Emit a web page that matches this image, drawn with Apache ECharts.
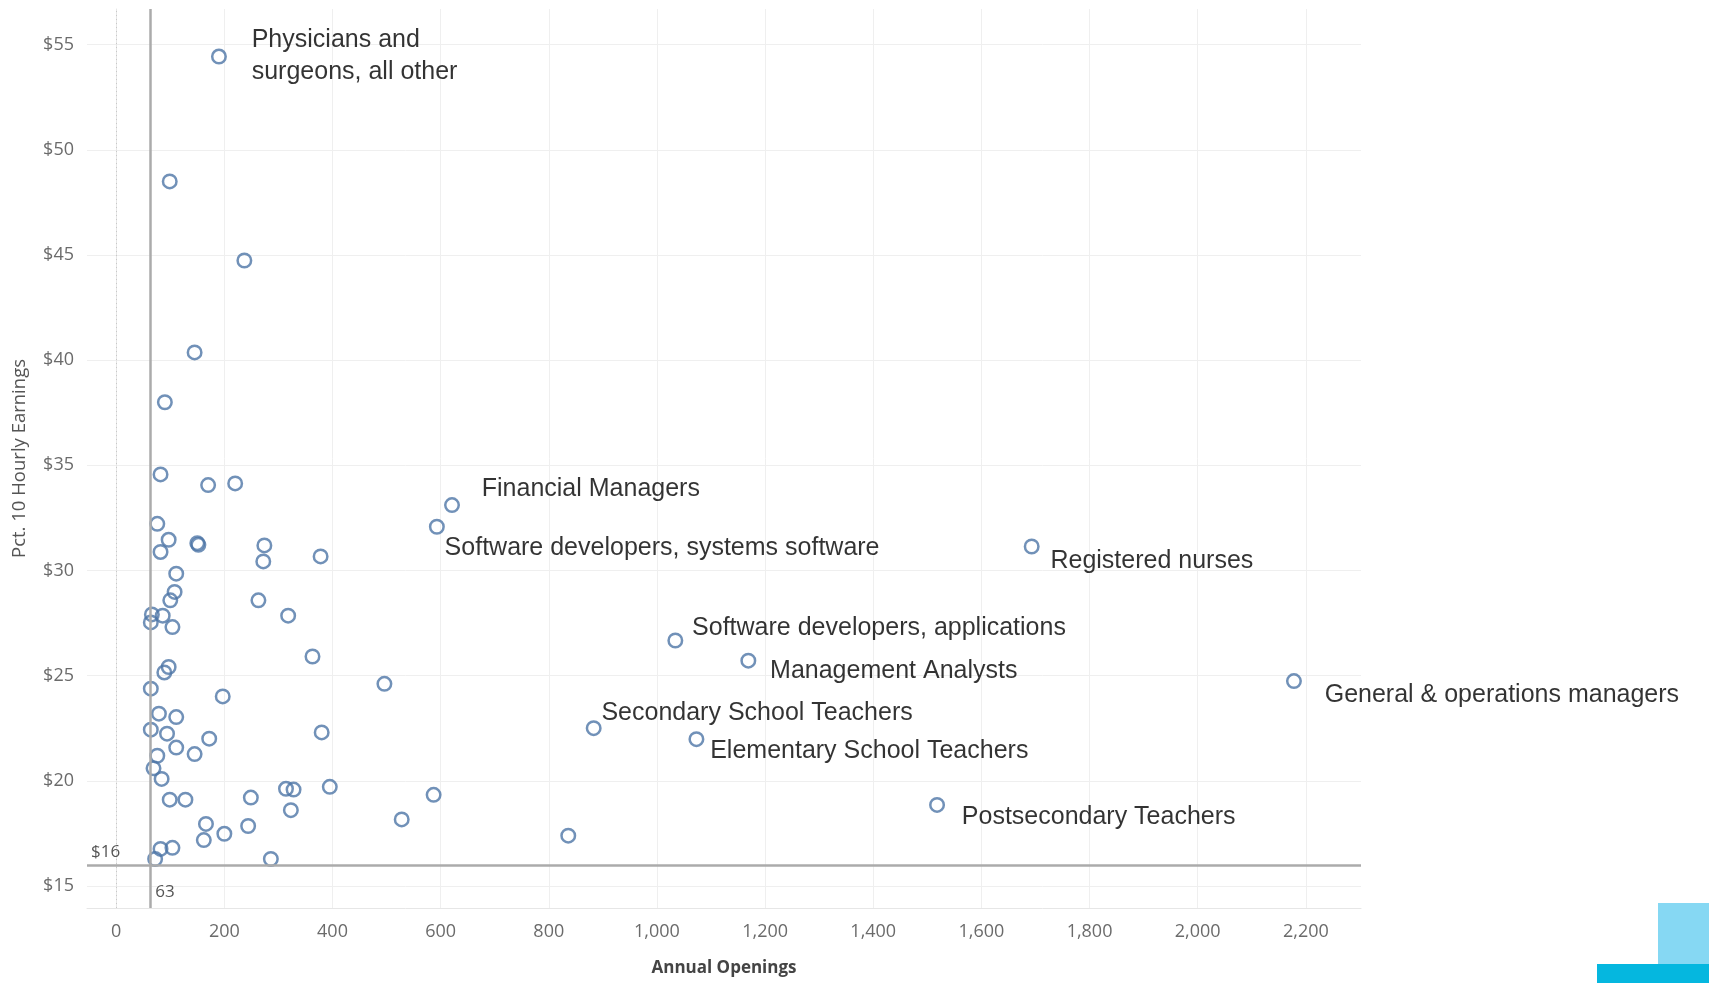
<!DOCTYPE html>
<html>
<head>
<meta charset="utf-8">
<title>Annual Openings vs Pct. 10 Hourly Earnings</title>
<script src="https://cdn.jsdelivr.net/npm/echarts@6/dist/echarts.min.js"></script>
<style>
    html, body { margin: 0; padding: 0; background: #fff; }
    #chart { width: 1709px; height: 983px; }
</style>
</head>
<body>
<div id="chart"></div>
<script>
// 带标注的职业
let labeledNames = [
    'Physicians and\nsurgeons, all other',
    'Financial Managers',
    'Software developers, systems software',
    'Registered nurses',
    'Software developers, applications',
    'Management Analysts',
    'General & operations managers',
    'Secondary School Teachers',
    'Elementary School Teachers',
    'Postsecondary Teachers'
];
let labeledOpenings = [190, 621, 593, 1693, 1034, 1169, 2178, 883, 1073, 1518];
let labeledEarnings = [54.44, 33.11, 32.08, 31.14, 26.67, 25.71, 24.74, 22.5, 21.98, 18.85];

// 其他职业 (无标注)
let otherOpenings = [
    99, 237, 145, 90, 82, 170, 220, 76, 97, 82,
    150, 152, 274, 272, 378, 111, 108, 100, 263, 66,
    86, 64, 104, 318, 363, 97, 89, 496, 64, 197,
    79, 111, 64, 94, 380, 172, 111, 145, 76, 69,
    84, 314, 328, 395, 99, 128, 249, 323, 587, 528,
    166, 244, 200, 162, 82, 104, 72, 286, 836
];
let otherEarnings = [
    48.5, 44.74, 40.37, 38.0, 34.57, 34.06, 34.14, 32.22, 31.46, 30.88,
    31.3, 31.22, 31.19, 30.43, 30.67, 29.85, 28.98, 28.58, 28.58, 27.91,
    27.85, 27.53, 27.31, 27.85, 25.91, 25.41, 25.15, 24.61, 24.38, 24.01,
    23.19, 23.03, 22.43, 22.24, 22.3, 22.0, 21.58, 21.27, 21.19, 20.59,
    20.09, 19.62, 19.58, 19.71, 19.1, 19.1, 19.2, 18.6, 19.33, 18.16,
    17.95, 17.85, 17.48, 17.18, 16.76, 16.81, 16.28, 16.28, 17.39
];

// 刻度
let xTicks = [0, 200, 400, 600, 800, 1000, 1200, 1400, 1600, 1800, 2000, 2200];
let yTicks = [15, 20, 25, 30, 35, 40, 45, 50, 55];

// 参考线
let refOpenings = 63;
let refEarnings = 16;

// 标注位置: 文字左边缘/中心 相对于点中心的像素偏移 (样式)
let labelOffset = {
    'Physicians and\nsurgeons, all other': [34, 1],
    'Financial Managers': [31, -15],
    'Software developers, systems software': [9, 23],
    'Registered nurses': [20, 16],
    'Software developers, applications': [18, -11],
    'Management Analysts': [23, 12],
    'General & operations managers': [32, 15],
    'Secondary School Teachers': [9, -14],
    'Elementary School Teachers': [15, 13],
    'Postsecondary Teachers': [26, 13]
};

let xMin = -54, xMax = 2302;
let yMin = 13.95, yMax = 56.7;
let dotSize = 13.5;

let ringStyle = {
    color: 'rgba(0,0,0,0)',
    borderColor: '#4e76a6',
    borderWidth: 2.5
};

let otherData = otherOpenings.map((x, i) => [x, otherEarnings[i]]);
let labeledData = labeledOpenings.map((x, i) => {
    let off = labelOffset[labeledNames[i]];
    return {
        name: labeledNames[i],
        value: [x, labeledEarnings[i]],
        label: {
            show: true,
            // 位置相对于符号包围盒左上角
            position: [off[0] + dotSize / 2, off[1] + dotSize / 2],
            align: 'left',
            verticalAlign: 'middle',
            formatter: '{b}',
            fontFamily: 'Liberation Sans',
            fontSize: 25,
            lineHeight: 32,
            color: '#000'
        }
    };
});

let mychart = echarts.init(document.getElementById('chart'));

let option = {
    animation: false,
    grid: {
        left: 87,
        right: 348,
        top: 9,
        bottom: 75
    },
    xAxis: {
        type: 'value',
        min: xMin,
        max: xMax,
        name: 'Annual Openings',
        nameLocation: 'middle',
        nameGap: 52,
        nameTextStyle: {
            fontFamily: 'Open Sans',
            fontWeight: 'bold',
            fontSize: 17,
            color: '#444'
        },
        axisLine: { show: true, lineStyle: { color: '#e6e6e6', width: 1 } },
        axisTick: { show: false, customValues: xTicks },
        axisLabel: {
            customValues: xTicks,
            margin: 15,
            fontFamily: 'Open Sans',
            fontSize: 18,
            color: '#6b6b6b',
            formatter: (v) => v.toLocaleString('en-US')
        },
        splitLine: {
            show: true,
            lineStyle: {
                color: xTicks.map((t) => t === 0 ? 'rgba(0,0,0,0)' : '#efefef'),
                width: 1
            }
        }
    },
    yAxis: {
        type: 'value',
        min: yMin,
        max: yMax,
        name: 'Pct. 10 Hourly Earnings',
        nameLocation: 'middle',
        nameGap: 58,
        nameTextStyle: {
            fontFamily: 'Open Sans',
            fontSize: 18.5,
            color: '#555'
        },
        axisLine: { show: true, lineStyle: { color: '#e6e6e6', width: 1 } },
        axisTick: { show: false, customValues: yTicks },
        axisLabel: {
            customValues: yTicks,
            margin: 13,
            fontFamily: 'Open Sans',
            fontSize: 18,
            color: '#6b6b6b',
            formatter: (v) => '$' + v
        },
        splitLine: {
            show: true,
            lineStyle: { color: '#efefef', width: 1 }
        }
    },
    series: [
        {
            type: 'scatter',
            symbol: 'circle',
            symbolSize: dotSize,
            itemStyle: ringStyle,
            data: otherData,
            z: 3,
            markLine: {
                silent: true,
                symbol: 'none',
                animation: false,
                data: [
                    {
                        xAxis: 0,
                        lineStyle: { color: '#c8c8c8', type: [1, 3], width: 1 },
                        label: { show: false }
                    },
                    {
                        xAxis: refOpenings,
                        lineStyle: { color: '#ababab', type: 'solid', width: 2.5 },
                        label: { show: false }
                    },
                    {
                        yAxis: refEarnings,
                        lineStyle: { color: '#ababab', type: 'solid', width: 2.5 },
                        label: {
                            show: true,
                            position: 'insideStartTop',
                            formatter: '$' + refEarnings,
                            fontFamily: 'Open Sans',
                            fontSize: 17,
                            color: '#555',
                            distance: 4
                        }
                    }
                ]
            },
            markPoint: {
                silent: true,
                symbolSize: 0,
                data: [
                    {
                        coord: [refOpenings, yMin],
                        label: {
                            show: true,
                            position: [5, -24],
                            formatter: String(refOpenings),
                            fontFamily: 'Open Sans',
                            fontSize: 17,
                            color: '#555'
                        }
                    }
                ]
            }
        },
        {
            type: 'scatter',
            symbol: 'circle',
            symbolSize: dotSize,
            itemStyle: ringStyle,
            data: labeledData,
            z: 4,
            labelLayout: { hideOverlap: false }
        }
    ],
    graphic: [
        {
            type: 'rect',
            right: 0,
            bottom: 19,
            shape: { width: 51, height: 61 },
            style: { fill: '#86d8f3' }
        },
        {
            type: 'rect',
            right: 0,
            bottom: 0,
            shape: { width: 112, height: 19 },
            style: { fill: '#05b7df' }
        }
    ]
};

mychart.setOption(option);
</script>
</body>
</html>
